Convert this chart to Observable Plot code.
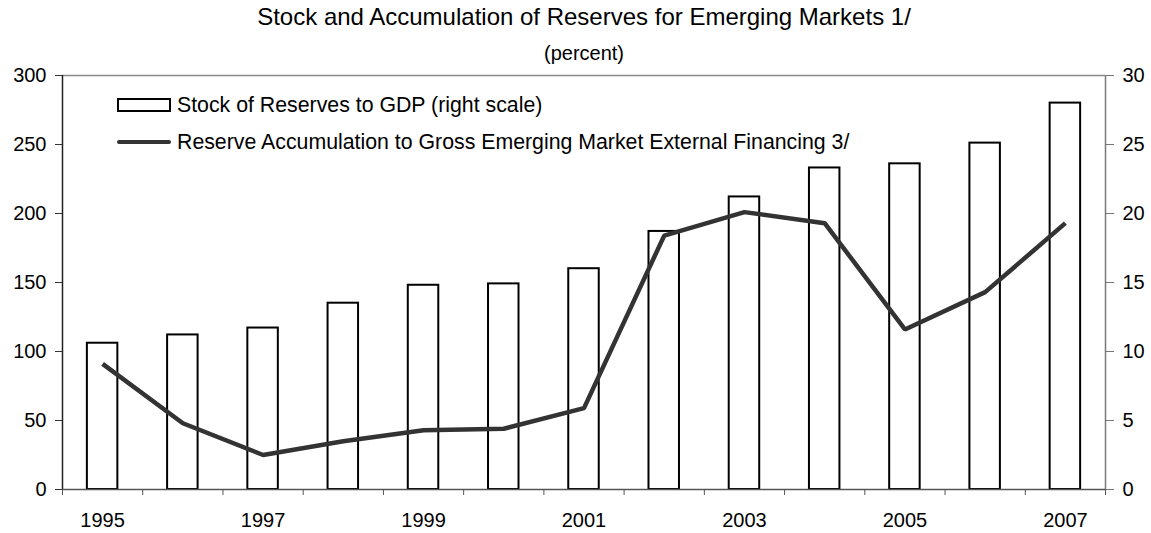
<!DOCTYPE html>
<html>
<head>
<meta charset="utf-8">
<script src="https://cdn.jsdelivr.net/npm/d3@7"></script>
<script src="https://cdn.jsdelivr.net/npm/@observablehq/plot@0.6"></script>
<style>
  html, body { margin: 0; padding: 0; background: white; }
  #wrap { position: relative; width: 1151px; height: 533px; font-family: "Liberation Sans", Arial, sans-serif; }
  #legend { position: absolute; left: 117px; top: 87px; font-size: 21.3px; color: black; }
  #legend .row { position: relative; height: 37px; line-height: 37px; padding-left: 60px; white-space: nowrap; }
  #legend .sw-bar { position: absolute; left: 0; top: 11px; width: 54px; height: 14px; box-sizing: border-box; border: 2px solid black; background: white; }
  #legend .sw-line { position: absolute; left: 0; top: 15.5px; width: 54px; height: 4.5px; border-radius: 2.5px; background: #333; }
</style>
</head>
<body>
<div id="wrap">
  <div id="chart"></div>
  <div id="legend"></div>
</div>
<script>
// ---- data ----
const years = [1995, 1996, 1997, 1998, 1999, 2000, 2001, 2002, 2003, 2004, 2005, 2006, 2007];
// Stock of Reserves to GDP (right scale, percent)
const stockToGDP = [10.6, 11.2, 11.7, 13.5, 14.8, 14.9, 16.0, 18.7, 21.2, 23.3, 23.6, 25.1, 28.0];
// Reserve Accumulation to Gross EM External Financing (left scale, percent)
const accumulation = [91, 48, 25, 35, 43, 44, 59, 184, 201, 193, 116, 143, 193];
const leftTicks = [0, 50, 100, 150, 200, 250, 300];
const rightTicks = [0, 5, 10, 15, 20, 25, 30];
const labelYears = [1995, 1997, 1999, 2001, 2003, 2005, 2007];
const titleText = "Stock and Accumulation of Reserves for Emerging Markets 1/";
const subtitleText = "(percent)";
const legendLabels = ["Stock of Reserves to GDP (right scale)", "Reserve Accumulation to Gross Emerging Market External Financing 3/"];

// ---- build ----
const data = years.map((year, i) => ({year, stock: stockToGDP[i], accum: accumulation[i]}));
const rightScale = 10; // right axis value * 10 = left axis value
const boundaries = years.map(y => y - 0.5).concat([years[years.length - 1] + 0.5]);
const xDomain = [boundaries[0], boundaries[boundaries.length - 1]];
const font = "'Liberation Sans', Arial, sans-serif";

const chart = Plot.plot({
  width: 1151,
  height: 533,
  marginTop: 75,
  marginBottom: 44,
  marginLeft: 62,
  marginRight: 46,
  style: {fontFamily: font, fontSize: "20px", background: "white", color: "black", overflow: "visible"},
  x: {type: "linear", domain: xDomain, label: null},
  y: {domain: [0, 300], label: null},
  marks: [
    Plot.rectY(data, {x1: d => d.year - 0.19, x2: d => d.year + 0.19, y1: 0, y2: d => d.stock * rightScale, fill: "white", stroke: "black", strokeWidth: 2}),
    Plot.line(data, {x: "year", y: "accum", stroke: "#333", strokeWidth: 4.5, strokeLinejoin: "miter", strokeLinecap: "butt"}),
    Plot.ruleY([300], {stroke: "#8a8a8a", strokeWidth: 1.5}),
    Plot.ruleX([xDomain[1]], {stroke: "#7a7a7a", strokeWidth: 1.5}),
    Plot.ruleY([0], {stroke: "#555", strokeWidth: 1.5}),
    Plot.ruleX([xDomain[0]], {stroke: "#222", strokeWidth: 1.5}),
    Plot.axisY(leftTicks, {anchor: "left", label: null, tickSize: 7, tickPadding: 9, tickFormat: d => String(d), stroke: "#333", fontSize: 20}),
    Plot.axisY(rightTicks.map(v => v * rightScale), {anchor: "right", label: null, tickSize: 8, tickPadding: 9, tickFormat: d => String(d / rightScale), stroke: "#777", fontSize: 20}),
    Plot.axisX(boundaries, {anchor: "bottom", label: null, tickSize: 6, tickFormat: () => "", stroke: "#555"}),
    Plot.axisX(labelYears, {anchor: "bottom", label: null, tickSize: 0, tickPadding: 23, tickFormat: d => String(d), fontSize: 20}),
    Plot.text([titleText], {text: d => d, frameAnchor: "top", lineAnchor: "bottom", dy: -51, fontSize: 24, fill: "black"}),
    Plot.text([subtitleText], {text: d => d, frameAnchor: "top", lineAnchor: "bottom", dy: -16, fontSize: 20, fill: "black"})
  ]
});
document.getElementById("chart").appendChild(chart);

const legend = document.getElementById("legend");
const swatches = ["sw-bar", "sw-line"];
legendLabels.forEach((label, i) => {
  const row = document.createElement("div");
  row.className = "row";
  const sw = document.createElement("span");
  sw.className = swatches[i];
  row.appendChild(sw);
  row.appendChild(document.createTextNode(label));
  legend.appendChild(row);
});
</script>
</body>
</html>
